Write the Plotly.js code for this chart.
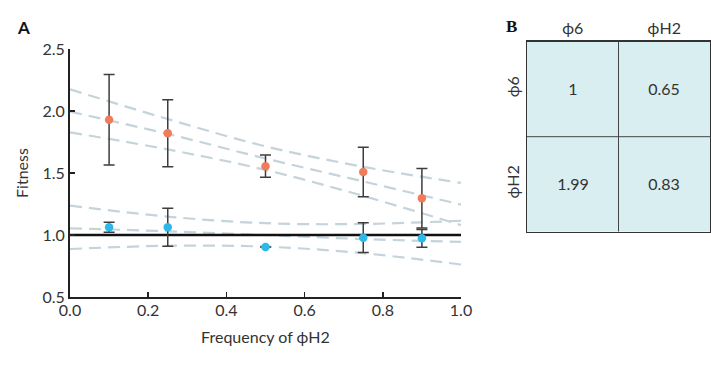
<!DOCTYPE html>
<html>
<head>
<meta charset="utf-8">
<script src="https://cdn.plot.ly/plotly-3.0.1.min.js"></script>
<style>html,body{margin:0;padding:0;background:#fff;}#chart{width:711px;height:366px;}</style>
</head>
<body>
<div id="chart"></div>
<script>
// Panel A data
const freqH2 = [0.1, 0.25, 0.5, 0.75, 0.9];
const fitnessH2 = [1.93, 1.82, 1.555, 1.508, 1.297];
const errH2 = [0.365, 0.27, 0.09, 0.2, 0.24];
const fitness6 = [1.062, 1.062, 0.903, 0.978, 0.973];
const err6 = [0.04, 0.153, 0, 0.12, 0.072];

// regression lines with confidence bands
const bandX = [0, 0.25, 0.5, 0.75, 1.0];
const h2Upper = [2.175, 1.935, 1.715, 1.55, 1.42];
const h2Mid = [1.995, 1.815, 1.617, 1.432, 1.245];
const h2Lower = [1.828, 1.69, 1.525, 1.315, 1.08];
const s6Upper = [1.237, 1.148, 1.095, 1.089, 1.115];
const s6Mid = [1.054, 1.03, 1.0, 0.967, 0.945];
const s6Lower = [0.887, 0.913, 0.906, 0.853, 0.762];

const neutralX = [0, 1];
const neutralY = [1, 1];

// Panel B data
const payoffCols = ['\u03d56', '\u03d5H2'];
const payoffRows = ['\u03d56', '\u03d5H2'];
const payoff = [[1, 0.65], [1.99, 0.83]];

const FONT = "Lato, 'DejaVu Sans', sans-serif";
const FS = 16;
const dashStyle = {color: '#c5d3da', width: 2.2, dash: '12px,7px'};

const traces = [];
[h2Upper, h2Mid, h2Lower, s6Upper, s6Mid, s6Lower].forEach(ys => {
  traces.push({x: bandX, y: ys, mode: 'lines', line: Object.assign({shape: 'spline'}, dashStyle),
    hoverinfo: 'skip', showlegend: false, xaxis: 'x', yaxis: 'y'});
});
traces.push({x: neutralX, y: neutralY, mode: 'lines', line: {color: '#111', width: 2.4},
  showlegend: false, xaxis: 'x', yaxis: 'y'});
traces.push({x: freqH2, y: fitnessH2, mode: 'markers', marker: {color: '#ef7c5b', size: 8.5},
  error_y: {type: 'data', array: errH2, visible: true, color: '#3d3d3d', thickness: 1.5, width: 5.5},
  showlegend: false, xaxis: 'x', yaxis: 'y'});
traces.push({x: freqH2, y: fitness6, mode: 'markers', marker: {color: '#2cb9ea', size: 8.5},
  error_y: {type: 'data', array: err6, visible: true, color: '#3d3d3d', thickness: 1.5, width: 5.5},
  showlegend: false, xaxis: 'x', yaxis: 'y'});

traces.push({type: 'heatmap', z: payoff, x: [0, 1], y: [0, 1],
  text: payoff.map(r => r.map(v => String(v))), texttemplate: '%{text}',
  textfont: {family: FONT, size: FS, color: '#333'},
  colorscale: [[0, '#d9eef0'], [1, '#d9eef0']], showscale: false, hoverinfo: 'skip',
  xaxis: 'x2', yaxis: 'y2'});

const L = 70, T = 40, W = 711 - 70 - 1, H = 366 - 40 - 69;
const px = v => (v - L) / W;
const py = v => (297 - v) / H;

const layout = {
  width: 711, height: 366,
  margin: {l: L, r: 1, t: T, b: 69},
  paper_bgcolor: '#fff', plot_bgcolor: 'rgba(0,0,0,0)',
  font: {family: FONT, size: FS, color: '#333'},
  showlegend: false,
  xaxis: {domain: [0, px(461)], range: [0, 1], tickvals: [0, 0.2, 0.4, 0.6, 0.8, 1.0], ticktext: ['0.0','0.2','0.4','0.6','0.8','1.0'],
    ticks: 'inside', ticklen: 5, tickwidth: 1.5, tickcolor: '#222', ticklabelstandoff: -2,
    showline: true, linecolor: '#222', linewidth: 2, showgrid: false, zeroline: false,
    tickfont: {size: FS, color: '#333'},
    title: {text: 'Frequency of \u03d5H2', font: {size: FS, color: '#333'}, standoff: 14}},
  yaxis: {domain: [0, py(49)], range: [0.5, 2.5], tickvals: [0.5, 1, 1.5, 2, 2.5], ticktext: ['0.5','1.0','1.5','2.0','2.5'],
    ticks: 'inside', ticklen: 5, tickwidth: 1.5, tickcolor: '#222',
    showline: true, linecolor: '#222', linewidth: 2, showgrid: false, zeroline: false,
    tickfont: {size: FS, color: '#333'},
    title: {text: 'Fitness', font: {size: FS, color: '#333'}, standoff: 10}},
  xaxis2: {domain: [px(527), 1], range: [-0.5, 1.5], side: 'top', anchor: 'y2',
    tickvals: [0, 1], ticktext: payoffCols, ticks: '', showgrid: false, zeroline: false,
    showline: true, mirror: true, linecolor: '#333', linewidth: 1.5,
    tickfont: {size: FS, color: '#333'}},
  yaxis2: {domain: [py(231.7), py(41.7)], range: [1.5, -0.5], anchor: 'x2',
    tickvals: [0, 1], ticktext: payoffRows, tickangle: -90, ticks: '', showgrid: false, zeroline: false,
    showline: true, mirror: true, linecolor: '#333', linewidth: 1.5,
    tickfont: {size: FS, color: '#333'}},
  shapes: [
    {type: 'line', xref: 'x2', yref: 'y2', x0: 0.5, x1: 0.5, y0: -0.5, y1: 1.5, line: {color: '#444', width: 1}},
    {type: 'line', xref: 'x2', yref: 'y2', x0: -0.5, x1: 1.5, y0: 0.5, y1: 0.5, line: {color: '#444', width: 1}}
  ],
  annotations: [
    {text: 'A', xref: 'paper', yref: 'paper', x: px(23), y: py(27.5), showarrow: false,
      font: {family: FONT, size: 17, color: '#111', weight: 'bold'}, xanchor: 'center', yanchor: 'middle'},
    {text: 'B', xref: 'paper', yref: 'paper', x: px(511), y: py(27), showarrow: false,
      font: {family: "'Liberation Serif', serif", size: 17, color: '#111', weight: 'bold'}, xanchor: 'center', yanchor: 'middle'}
  ]
};

Plotly.newPlot('chart', traces, layout, {displayModeBar: false, staticPlot: true});
</script>
</body>
</html>
